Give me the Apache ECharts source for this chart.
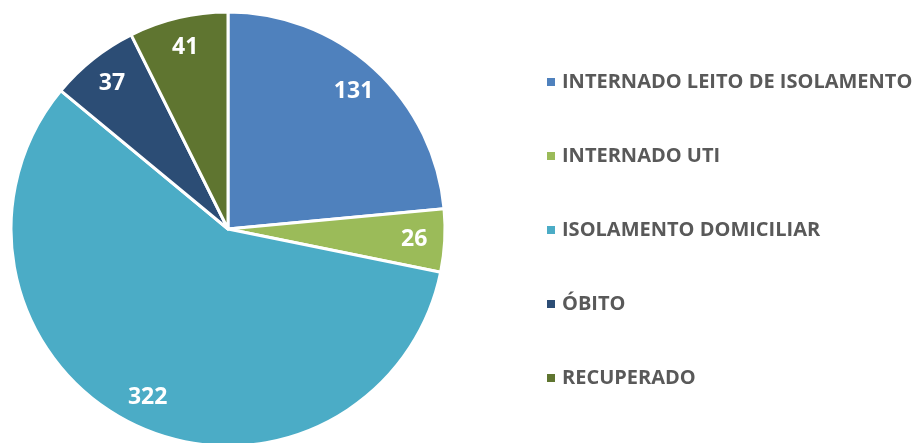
<!DOCTYPE html>
<html>
<head>
<meta charset="utf-8">
<script src="https://cdn.jsdelivr.net/npm/echarts@6/dist/echarts.min.js"></script>
<style>
  html, body { margin: 0; padding: 0; background: #fff; }
  #chartmain { width: 915px; height: 443px; }
</style>
</head>
<body>
<div id="chartmain"></div>
<script>
// categorias e valores
let categorias = ['INTERNADO LEITO DE ISOLAMENTO', 'INTERNADO UTI', 'ISOLAMENTO DOMICILIAR', 'ÓBITO', 'RECUPERADO'];
let valores = [131, 26, 322, 37, 41];
let cores = ['#4F81BD', '#9BBB59', '#4BACC6', '#2C4D75', '#5F7530'];

let dados = categorias.map(function (nome, i) {
  return { name: nome, value: valores[i], itemStyle: { color: cores[i] } };
});

let chartmain = echarts.init(document.getElementById('chartmain'));
chartmain.setOption({
  animation: false,
  legend: {
    orient: 'vertical',
    left: 540,
    top: 67,
    itemWidth: 10,
    itemHeight: 10,
    itemGap: 54,
    icon: 'rect',
    data: categorias,
    textStyle: {
      fontFamily: 'Open Sans',
      fontWeight: 'bold',
      fontSize: 20,
      color: '#595959',
      padding: [0, 0, 0, 1]
    }
  },
  series: [
    {
      type: 'pie',
      center: [228, 229],
      radius: [0, 217],
      startAngle: 90,
      clockwise: true,
      itemStyle: { borderColor: '#fff', borderWidth: 3 },
      label: { show: false },
      labelLine: { show: false },
      emphasis: { disabled: true },
      data: dados
    },
    { // so para os rotulos
      type: 'pie',
      center: [228, 229],
      radius: [150, 217],
      startAngle: 90,
      clockwise: true,
      silent: true,
      z: 3,
      itemStyle: { color: 'rgba(0,0,0,0)' },
      label: {
        show: true,
        position: 'inside',
        formatter: '{c}',
        fontFamily: 'Open Sans',
        fontWeight: 'bold',
        fontSize: 23,
        color: '#fff'
      },
      labelLine: { show: false },
      emphasis: { disabled: true },
      data: categorias.map(function (nome, i) {
        return { name: nome, value: valores[i], itemStyle: { color: 'rgba(0,0,0,0)' } };
      })
    }
  ]
});
</script>
</body>
</html>
